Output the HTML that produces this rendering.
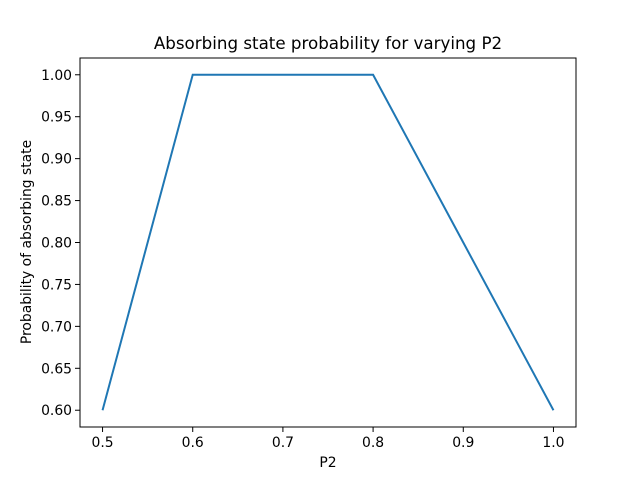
<!DOCTYPE html>
<html><head><meta charset="utf-8"><style>
body{margin:0;background:#fff;}
svg{display:block;font-family:"DejaVu Sans","Liberation Sans",sans-serif;}
</style></head><body>
<svg id="chart" width="640" height="480">
<rect width="640" height="480" fill="#fff"/>
<text x="328" y="49" text-anchor="middle" font-size="16.7">Absorbing state probability for varying P2</text>
<text x="328" y="467" text-anchor="middle" font-size="13.9">P2</text>
<text transform="translate(31,242) rotate(-90)" text-anchor="middle" font-size="13.9">Probability of absorbing state</text>
<g id="xticks"></g>
<g id="yticks"></g>
<path id="line" fill="none" stroke="#1f77b4" stroke-width="2"/>
<rect x="80" y="58" width="496" height="369" fill="none" stroke="#000" stroke-width="1"/>
</svg>
<script>
const p2Values = [0.5, 0.6, 0.7, 0.8, 0.9, 1.0];
const probValues = [0.6, 1.0, 1.0, 1.0, 0.8, 0.6];
const xTickLabels = ["0.5","0.6","0.7","0.8","0.9","1.0"];
const yTickLabels = ["0.60","0.65","0.70","0.75","0.80","0.85","0.90","0.95","1.00"];
const NS="http://www.w3.org/2000/svg";
function xs(v){return 80+(v-0.475)/0.55*496;}
function ys(v){return 427-(v-0.58)/0.44*369;}
const xg=document.getElementById('xticks'), yg=document.getElementById('yticks');
xTickLabels.forEach(t=>{
  const x=xs(parseFloat(t));
  const l=document.createElementNS(NS,'line');
  l.setAttribute('x1',x);l.setAttribute('x2',x);l.setAttribute('y1',427);l.setAttribute('y2',432);l.setAttribute('stroke','#000');l.setAttribute('stroke-width','1');
  
  
  xg.appendChild(l);
  const tx=document.createElementNS(NS,'text');
  tx.setAttribute('x',x);tx.setAttribute('y',447);tx.setAttribute('text-anchor','middle');tx.setAttribute('font-size','13.9');tx.textContent=t;
  
  
  xg.appendChild(tx);
});
yTickLabels.forEach(t=>{
  const y=ys(parseFloat(t));
  const l=document.createElementNS(NS,'line');
  l.setAttribute('x1',75);l.setAttribute('x2',80);l.setAttribute('y1',y);l.setAttribute('y2',y);l.setAttribute('stroke','#000');l.setAttribute('stroke-width','1');
  
  
  yg.appendChild(l);
  const tx=document.createElementNS(NS,'text');
  tx.setAttribute('x',72);tx.setAttribute('y',y+5);tx.setAttribute('text-anchor','end');tx.setAttribute('font-size','13.9');tx.textContent=t;
  
  
  yg.appendChild(tx);
});
document.getElementById('line').setAttribute('d',p2Values.map((v,i)=>(i?'L':'M')+xs(v)+' '+ys(probValues[i])).join(' '));
</script>
</body></html>
